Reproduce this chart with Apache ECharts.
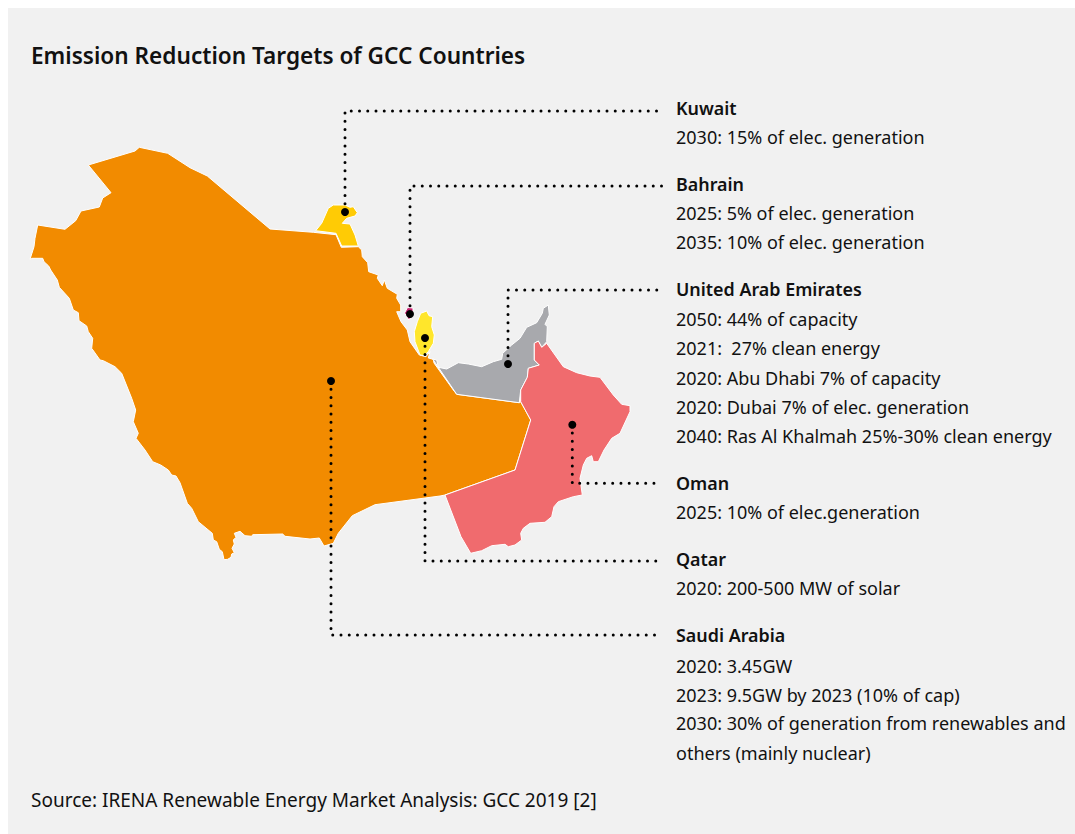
<!DOCTYPE html>
<html><head><meta charset="utf-8">
<style>html,body{margin:0;padding:0;background:#fff}#c{width:1075px;height:834px}</style>
<script src="https://cdn.jsdelivr.net/npm/echarts@6/dist/echarts.min.js"></script>
</head><body><div id="c"></div><script>
const titleText='Emission Reduction Targets of GCC Countries';
const sourceText='Source: IRENA Renewable Energy Market Analysis: GCC 2019 [2]';
const countries=['Saudi Arabia','Kuwait','Bahrain','Qatar','United Arab Emirates','Oman'];
const countryColors=['#F28B00','#FFCB05','#C8206E','#FFE62B','#A8A9AD','#F06B6E'];
const saudiOutline=[[88.3,165],[135,151],[139.3,147.3],[167.7,153.3],[190,167.7],[207.3,176],[270,229],[313.3,232.3],[336,234.7],[341.3,247.3],[358.3,246.7],[361.7,250],[362.3,256.7],[367.7,262.7],[368.7,271.7],[378.3,275],[377.3,278.3],[382.3,285.7],[384.3,280],[387.3,288.3],[397.3,294.3],[396.7,298.3],[400.7,305],[400.7,311.7],[396.7,311.7],[401,321.7],[407.3,330],[410,341.7],[419.3,355],[426,356.7],[430,351.7],[428.3,358],[433.3,359.3],[434,363],[453.3,390],[456.7,394.3],[519.3,402.7],[520.7,401.7],[530.7,420],[515,470],[445,495],[440,496],[375,504.7],[352.3,515.7],[338.3,533.3],[333.3,543.3],[324,546],[319.3,538],[310,539],[285,536.3],[282.7,534],[252.7,534.7],[251.7,536.3],[245,535.7],[240,531.3],[234.3,533.3],[236,537.3],[233.3,540],[234.3,544],[232,548.3],[234.3,552.7],[231.7,554],[231,557.3],[227.7,559.3],[224,559.7],[222.3,551.7],[219.3,549.3],[216.7,541.7],[213.3,540],[212.3,533.3],[198.3,521.7],[191.7,508.3],[187.3,503.3],[180,482.7],[176,476],[171.7,475],[168.3,470],[160.7,465],[152.7,461.7],[145,450],[136,438.3],[138.3,433.3],[133.3,421.7],[135.7,410],[131.7,398.3],[121.7,373.3],[115,366.7],[103.3,360.7],[100,360],[91.7,348.3],[92.7,338.3],[88.3,331.7],[86.7,326],[79,320.7],[78.3,312.7],[73.3,310],[69.3,298.3],[59.3,287.3],[57.3,280],[50.7,270],[48.7,266],[44,261.7],[42.7,258.3],[31.7,258.3],[30,259.3],[34,246.7],[35,238.3],[37.7,225],[65,229.3],[75.7,220.7],[81,211],[99.3,207],[102.7,198],[111,192.7]];
const kuwaitOutline=[[315.7,230.7],[321.7,223.3],[328.3,208.3],[333.3,205],[345,205],[350,207.3],[353.3,206.7],[357.3,212.7],[355,216],[346.7,218.3],[342.3,223.3],[350,224],[355,235],[358.3,246],[341.7,246],[336,233.3]];
const bahrainOutline=[[407.5,307.5],[413,308],[413,315],[408.8,320],[404.5,313]];
const qatarOutline=[[420,355],[415,341.7],[414.3,331.7],[417.3,321.7],[420.7,313.3],[426.7,311],[429,315.7],[432.7,316.7],[431.7,326.7],[434.3,335],[433.3,343.3],[428.3,351.7],[424,355.7]];
const uaeOutline=[[432.7,359],[436.7,360],[438.3,367.3],[446.7,369],[458.3,362.7],[468.3,364],[481.7,366.7],[493.3,361.7],[501.7,359.3],[502.7,353.3],[511.7,345],[520,338.3],[526.7,327.3],[536.7,322.7],[542.3,313.3],[543.3,308.3],[548.3,305],[549.3,315],[545,324.3],[547.3,326.7],[546.7,341.7],[541.7,347.3],[538.3,341],[534.3,343.3],[534.3,360],[539.3,365],[528.3,368.3],[527.3,377.3],[520.7,390],[519.3,402.7],[456.7,394.3]];
const omanOutline=[[546.7,343.3],[563.3,366.7],[576.7,372.7],[590,376],[600,377.3],[613.3,395],[621.7,404.3],[630,405.7],[630,411.7],[620,433.3],[611.7,438.3],[604,450],[598.3,461.7],[593.3,461.7],[591.7,455.7],[586.7,458.3],[583.3,465],[580,478.3],[582.3,495],[573.3,496.7],[558.3,501.7],[554,506.7],[551.7,516.7],[545,522.3],[530,523.3],[523.3,528.3],[520.7,533.3],[521.7,540],[515,545],[508.3,546.7],[505,544.3],[491.7,545.7],[481.7,550.7],[470.7,553.3],[461,536.7],[445,495],[515,470],[530.7,420],[520.7,401.7],[520.7,390],[527.3,377.3],[528.3,368.3],[539.3,365],[534.3,360],[534.3,343.3],[538.3,341],[541.7,347.3]];
const outlines=[saudiOutline,kuwaitOutline,bahrainOutline,qatarOutline,uaeOutline,omanOutline];
const markerPoints=[[331,381],[345,212],[410,314],[425,338],[508,364],[572.3,424.7]];
const leaderPaths=[[[331,381],[331,635],[662,635]],[[345,212],[345,111],[662,111]],[[410,314],[410,186],[662,186]],[[425,338],[425,561],[662,561]],[[508,364],[508,290],[662,290]],[[572.3,424.7],[572.3,483.3],[662,483.3]]];
const headings=[['Kuwait',108],['Bahrain',184],['United Arab Emirates',289],['Oman',483],['Qatar',559],['Saudi Arabia',635]];
const targetLines=[['2030: 15% of elec. generation',137],['2025: 5% of elec. generation',213],['2035: 10% of elec. generation',242],['2050: 44% of capacity',319],['2021:  27% clean energy',348],['2020: Abu Dhabi 7% of capacity',378],['2020: Dubai 7% of elec. generation',407],['2040: Ras Al Khalmah 25%-30% clean energy',436],['2025: 10% of elec.generation',512],['2020: 200-500 MW of solar',588],['2020: 3.45GW',666],['2023: 9.5GW by 2023 (10% of cap)',695],['2030: 30% of generation from renewables and',723],['others (mainly nuclear)',753]];
const flip=p=>[p[0],-p[1]];
const geojson={type:'FeatureCollection',features:countries.map((n,i)=>({type:'Feature',properties:{name:n},geometry:{type:'Polygon',coordinates:[[...outlines[i],outlines[i][0]].map(flip)]}}))};
echarts.registerMap('gcc',geojson);
const fontFamily='"Noto Sans"';
const ink='#111';
const txt=(t,x,y,size,weight)=>({type:'text',x,y,silent:true,style:{text:t,fill:ink,font:`${weight} ${size}px ${fontFamily}`,textVerticalAlign:'middle',verticalAlign:'middle'}});
const chart=echarts.init(document.getElementById('c'),null,{renderer:'svg'});
chart.setOption({
  animation:false,
  backgroundColor:'#fff',
  geo:{map:'gcc',roam:false,silent:true,aspectScale:1,left:0,top:0,width:1075,height:834,boundingCoords:[[0,0],[1075,-834]],
    itemStyle:{borderColor:'#fff',borderWidth:1},
    label:{show:false},
    regions:countries.map((n,i)=>({name:n,itemStyle:{areaColor:countryColors[i]}}))},
  series:[
    {type:'lines',coordinateSystem:'geo',polyline:true,silent:true,z:3,
     lineStyle:{color:'#000',width:3,type:[0,8.25],cap:'round',opacity:1},
     data:leaderPaths.map(p=>({coords:p.map(flip)}))},
    {type:'scatter',coordinateSystem:'geo',silent:true,z:4,symbol:'circle',symbolSize:8,itemStyle:{color:'#000',opacity:1},
     data:markerPoints.map(flip)}
  ],
  graphic:[
    {type:'rect',z:-10,silent:true,shape:{x:8,y:8,width:1067,height:826},style:{fill:'#f1f1f1'}},
    txt(titleText,31,55,22.6,600),
    txt(sourceText,31,800,19,400),
    ...headings.map(h=>txt(h[0],676,h[1],17.9,600)),
    ...targetLines.map(h=>txt(h[0],676,h[1],18,400))
  ]
});
</script></body></html>
